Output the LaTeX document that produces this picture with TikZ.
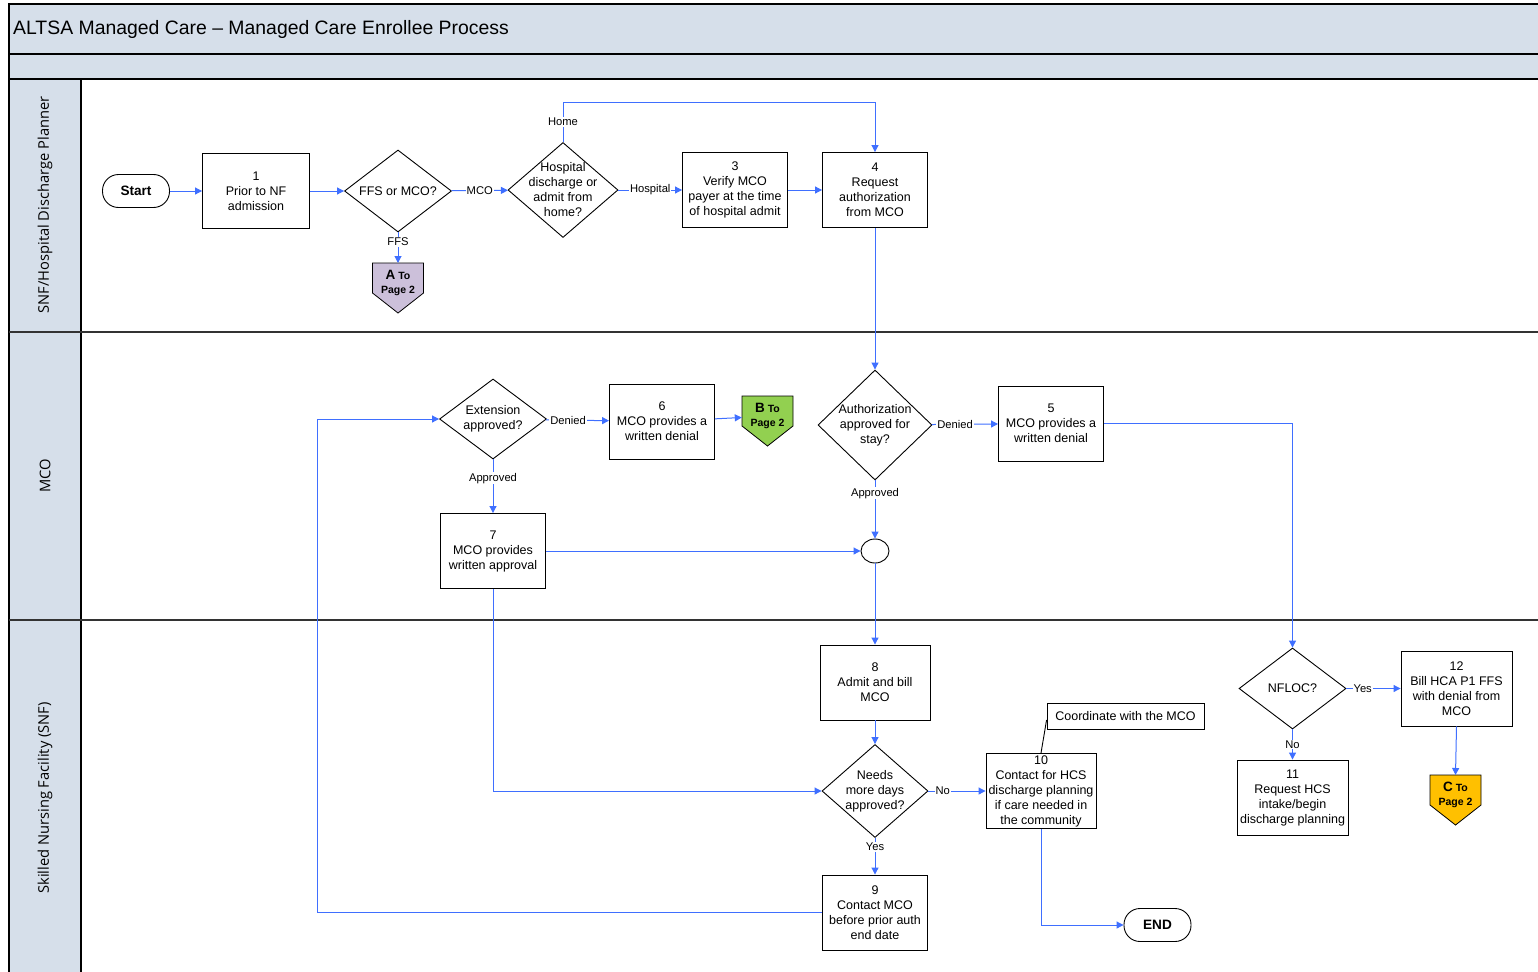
\documentclass[tikz,border=0pt]{standalone}
\usepackage{fontspec}
\setmainfont{Liberation Sans}
\newfontfamily\lanefont{Open Sans}
\usetikzlibrary{shapes.geometric,arrows.meta}

\definecolor{bandfill}{HTML}{D6DFEA}
\definecolor{flowline}{HTML}{3F6FFF}
\definecolor{pagea}{HTML}{CCC0DA}
\definecolor{pageb}{HTML}{92D050}
\definecolor{pagec}{HTML}{FFC000}

% off-page reference: name, x, top y, colour, letter
\newcommand{\offpage}[5]{%
  \filldraw[fill=#4, line width=0.8pt] (#2-25.5,#3) -- (#2+25.5,#3) -- (#2+25.5,#3+30) -- (#2,#3+50) -- (#2-25.5,#3+30) -- cycle;
  \node[pagetext] (#1) at (#2,#3) {{\fontsize{13.5}{14}\selectfont #5} To\\Page 2};
}

\begin{document}
\begin{tikzpicture}[x=1pt,y=-1pt,
  box/.style={draw, line width=0.9pt, fill=white, minimum width=105pt, minimum height=75pt, inner sep=0pt, align=center, font=\fontsize{12.5}{15}\selectfont},
  decision/.style={draw, line width=0.9pt, fill=white, diamond, inner sep=0pt},
  dtext/.style={align=center, inner sep=0pt, font=\fontsize{12.5}{15}\selectfont},
  terminal/.style={draw, line width=0.9pt, rounded corners=16pt, minimum width=67pt, minimum height=33pt, font=\bfseries\fontsize{13.6}{15}\selectfont},
  joint/.style={draw, line width=0.9pt, ellipse, minimum width=28pt, minimum height=24pt, inner sep=0pt},
  pagetext/.style={anchor=north, minimum width=51pt, minimum height=40pt, inner sep=0pt, align=center, font=\bfseries\fontsize{10.5}{14}\selectfont},
  flow/.style={draw=flowline, line width=1pt, -{Triangle[length=7pt,width=7pt]}},
  elabel/.style={fill=white, inner sep=1pt, font=\fontsize{11.2}{12}\selectfont},
  lane/.style={rotate=90, font=\lanefont\fontsize{14.7}{16}\selectfont},
  sep/.style={draw=black!80, line width=1.6pt}
]
\useasboundingbox (0,0) rectangle (1538,971);

% pool and lanes
\fill[bandfill] (9,4) rectangle (1540,79);
\fill[bandfill] (9,79) rectangle (81,975);
\draw[line width=1.2pt] (1540,4) -- (9,4) -- (9,975);
\draw[line width=1.2pt] (9,54) -- (1540,54);
\draw[line width=1.2pt] (9,79) -- (1540,79);
\draw[line width=1.2pt] (81,79) -- (81,975);
\draw[sep] (9,332) -- (1540,332);
\draw[sep] (9,620) -- (1540,620);

\node[anchor=west, inner sep=0pt, font=\fontsize{19.4}{22}\selectfont] (title) at (13,29) {ALTSA Managed Care – Managed Care Enrollee Process};
\node[lane] (lanea) at (45,205) {SNF/Hospital Discharge Planner};
\node[lane] (laneb) at (45,476) {MCO};
\node[lane] (lanec) at (45,798) {Skilled Nursing Facility (SNF)};

% discharge planner
\node[terminal] (start) at (136,191) {Start};
\node[box, minimum width=107pt] (b1) at (256,191) {1\\Prior to NF\\admission};
\node[decision, minimum width=107pt, minimum height=82pt, label={[dtext]center:FFS or MCO?}] (q1) at (398,191) {};
\node[decision, minimum width=110pt, minimum height=95pt, label={[dtext]center:{Hospital\\discharge or\\admit from\\home?}}] (q2) at (563,190) {};
\node[box] (b3) at (735,190) {3\\Verify MCO\\payer at the time\\of hospital admit};
\node[box] (b4) at (875,190) {4\\Request\\authorization\\from MCO};
\offpage{pa}{398}{263}{pagea}{A}

% MCO
\node[decision, minimum width=107pt, minimum height=80pt, label={[dtext]center:{Extension\\approved?}}] (q6) at (493,419) {};
\node[box] (b6) at (662,421.5) {6\\MCO provides a\\written denial};
\offpage{pb}{767.5}{396}{pageb}{B}
\node[decision, minimum width=114pt, minimum height=110pt, label={[dtext]center:{Authorization\\approved for\\stay?}}] (q3) at (875,425) {};
\node[box] (b5) at (1051,423.5) {5\\MCO provides a\\written denial};
\node[joint] (jn) at (875,551) {};
\node[box] (b7) at (493,551) {7\\MCO provides\\written approval};

% SNF
\node[box, minimum width=110pt] (b8) at (875,682.5) {8\\Admit and bill\\MCO};
\node[decision, minimum width=106pt, minimum height=93pt, label={[dtext]center:{Needs\\more days\\approved?}}] (q4) at (875,791) {};
\node[box, minimum width=110pt] (b10) at (1041,791) {10\\Contact for HCS\\discharge planning\\if care needed in\\the community};
\node[draw, line width=0.9pt, minimum width=157pt, minimum height=26pt, font=\fontsize{12.5}{15}\selectfont] (note) at (1125.5,716) {Coordinate with the MCO};
\node[box] (b9) at (875,912.5) {9\\Contact MCO\\before prior auth\\end date};
\node[terminal] (end) at (1157.5,925) {END};
\node[decision, minimum width=107pt, minimum height=81pt, label={[dtext]center:NFLOC?}] (q5) at (1292.5,688.5) {};
\node[box, minimum width=111pt] (b12) at (1456.5,688.5) {12\\Bill HCA P1 FFS\\with denial from\\MCO};
\node[box, minimum width=111pt] (b11) at (1292.5,797.5) {11\\Request HCS\\intake/begin\\discharge planning};
\offpage{pc}{1455.5}{775}{pagec}{C}

% connectors
\draw[flow] (start) -- (b1);
\draw[flow] (b1) -- (q1);
\draw[flow] (q1) -- node[elabel] {MCO} (q2);
\draw[flow] (q1) -- node[elabel, pos=0.3] {FFS} (pa);
\draw[flow] (q2) -- node[elabel] {Hospital} (b3);
\draw[flow] (q2.north) -- node[elabel] {Home} ++(0,-40) -| (b4.north);
\draw[flow] (b3) -- (b4);
\draw[flow] (b4) -- (q3);
\draw[flow] (q3) -- node[elabel, pos=0.35] {Denied} (b5);
\draw[flow] (q3) -- node[elabel, pos=0.22] {Approved} (jn);
\draw[flow] (b5.east) -| (q5.north);
\draw[flow] (b7.east) -- (jn.west);
\draw[flow] (jn) -- (b8);
\draw[flow] (b8) -- (q4);
\draw[flow] (q4) -- node[elabel, pos=0.25] {No} (b10);
\draw[flow] (q4) -- node[elabel, pos=0.25] {Yes} (b9);
\draw[flow] (b10.south) |- (end.west);
\draw[flow] (b9.west) -- (317,912.5) |- (q6.west);
\draw[flow] (b7.south) |- (q4.west);
\draw[flow] (q6) -- node[elabel, pos=0.35] {Denied} (b6);
\draw[flow] (q6) -- node[elabel, pos=0.35] {Approved} (b7);
\draw[flow] (b6) -- (pb);
\draw[flow] (q5) -- node[elabel, pos=0.3] {Yes} (b12);
\draw[flow] (q5) -- node[elabel] {No} (b11);
\draw[flow] (b12.south) -- (pc.north);
\draw[line width=0.9pt] (b10.north) -- ([yshift=-4pt]note.west);
\end{tikzpicture}
\end{document}
